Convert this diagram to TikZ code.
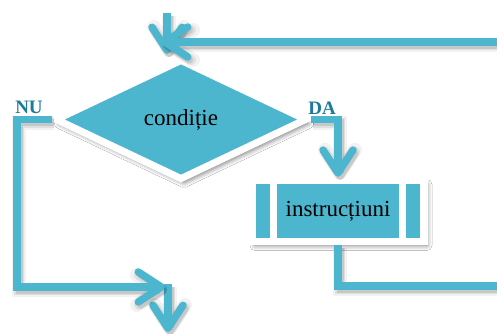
\documentclass[tikz,border=0pt]{standalone}
\usepackage{fontspec}
\setmainfont{Liberation Serif}
\usetikzlibrary{arrows.meta,shapes.geometric,shadows.blur,calc}
\definecolor{tealA}{RGB}{77,182,207}
\definecolor{lblcol}{RGB}{28,124,152}
\begin{document}
\begin{tikzpicture}[x=1pt,y=-1pt,
  conn/.style={draw=tealA, line width=7.5pt, line join=miter},
  arr/.style={-{Straight Barb[length=23pt,width=30pt,round]}},
  lshadow/.style={
    preaction={draw=black,opacity=.05,line width=14pt,transform canvas={shift={(2pt,-3pt)}}},
    preaction={draw=black,opacity=.08,line width=10pt,transform canvas={shift={(2pt,-3pt)}}},
    preaction={draw=black,opacity=.10,line width=7pt,transform canvas={shift={(2pt,-3pt)}}}},
  nshadow/.style={blur shadow={shadow xshift=3pt,shadow yshift=-4pt,shadow blur radius=5pt,shadow opacity=55}},
  txt/.style={font=\fontsize{23}{26}\selectfont, text=black},
  lbl/.style={font=\fontsize{19}{21}\selectfont\bfseries, text=lblcol, inner sep=0pt}
]
\useasboundingbox (0,0) rectangle (497,333);
\fill[white] (0,0) rectangle (497,333);

% nodes
\node[diamond, fill=tealA, draw=white, line width=7pt, minimum width=252pt,
      minimum height=121pt, inner sep=0pt, nshadow, txt] (cond) at (181,119.5) {condiție};
\node[rectangle, fill=tealA, draw=white, line width=7.5pt, minimum width=172pt,
      minimum height=61pt, inner sep=0pt, nshadow, txt] (ins) at (338,211) {instrucțiuni};
\fill[white] ($(ins.center)+(-68,-29)$) rectangle ($(ins.center)+(-61,31)$);
\fill[white] ($(ins.center)+(61,-29)$) rectangle ($(ins.center)+(68,31)$);

\node[lbl] (nu) at (29,107) {NU};
\node[lbl] (da) at (322,108) {DA};

% coordinates
\coordinate (topS) at (167,13);
\coordinate (topT) at (167,54);
\coordinate (botR) at (503,286);
\coordinate (topR) at (503,42);
\coordinate (topEnd) at (161,42);
\coordinate (nuB) at (17,287);
\coordinate (nuEnd) at (165,287);
\coordinate (botS) at (168,284);
\coordinate (botE) at (168,332);

% connectors
\draw[conn,lshadow,arr] (topS) -- (topT);
\draw[conn,lshadow,arr] (ins.south) |- (botR) -- (topR) -- (topEnd);
\draw[conn,lshadow,arr] (botS) -- (botE);
\draw[conn,lshadow,arr] (cond.west) -| (nuB) -- (nuEnd);
\draw[conn,lshadow,arr] (cond.east) -| (ins.north);
\end{tikzpicture}
\end{document}
